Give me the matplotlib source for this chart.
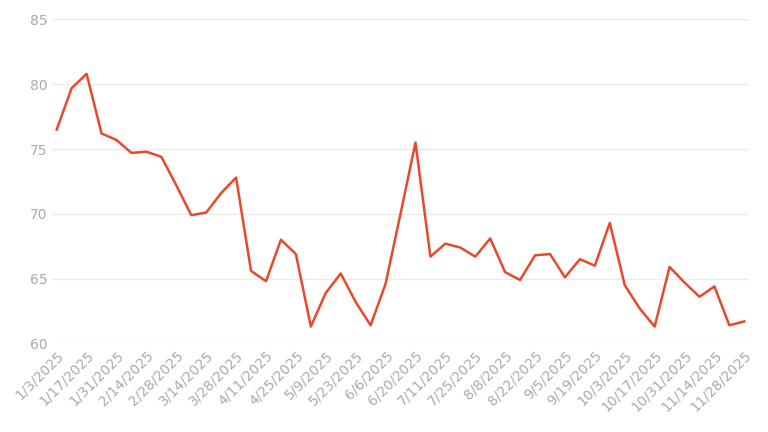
import pandas as pd
import matplotlib.pyplot as plt

dates = pd.date_range("2025-01-03", "2025-11-28", freq="7D")
dates = dates[dates != pd.Timestamp("2025-07-04")]
labels = [f"{d.month}/{d.day}/{d.year}" for d in dates]
values = [76.5, 79.7, 80.8, 76.2, 75.7, 74.7, 74.8, 74.4, 72.2, 69.9, 70.1, 71.6,
          72.8, 65.6, 64.8, 68.0, 66.9, 61.3, 63.9, 65.4, 63.2, 61.4, 64.6, 70.0,
          75.5, 66.7, 67.7, 67.4, 66.7, 68.1, 65.5, 64.9, 66.8, 66.9, 65.1, 66.5,
          66.0, 69.3, 64.5, 62.7, 61.3, 65.9, 64.7, 63.6, 64.4, 61.4, 61.7]

fig, ax = plt.subplots(figsize=(7.68, 4.32), dpi=100)
x = range(len(values))
ax.plot(x, values, color="#e8492c", lw=1.8)
ax.set_ylim(60, 85)
ax.set_yticks(range(60, 86, 5))
ax.set_xlim(-0.3, len(values) - 0.7)
ax.set_xticks(list(x)[::2])
ax.set_xticklabels(labels[::2], rotation=45, ha="right", rotation_mode="anchor")
ax.tick_params(colors="#aaaaaa", labelsize=10, length=0)
ax.grid(axis="y", color="#ebebeb", lw=1)
ax.set_axisbelow(True)
for s in ax.spines.values():
    s.set_visible(False)
plt.subplots_adjust(left=0.068, right=0.975, top=0.955, bottom=0.205)
plt.savefig("out.png")
